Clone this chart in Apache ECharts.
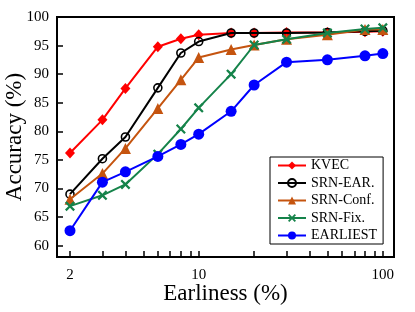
<!DOCTYPE html>
<html><head><meta charset="utf-8">
<script src="https://cdn.jsdelivr.net/npm/echarts@6/dist/echarts.min.js"></script>
<style>html,body{margin:0;padding:0;background:#fff}#c{width:415px;height:312px}</style>
</head><body><div id="c"></div>
<script>
const earliness = [2, 3, 4, 6, 8, 10, 15, 20, 30, 50, 80, 100];
const kvec     = [76.2, 82.0, 87.5, 94.8, 96.2, 96.9, 97.2, 97.2, 97.3, 97.3, 97.4, 97.5];
const srnEar   = [69.0, 75.2, 79.0, 87.6, 93.7, 95.7, 97.2, 97.2, 97.2, 97.3, 97.5, 97.6];
const srnConf  = [68.1, 72.6, 77.0, 84.0, 89.0, 92.9, 94.3, 95.1, 96.1, 96.9, 97.8, 97.8];
const srnFix   = [66.9, 68.8, 70.7, 76.0, 80.4, 84.1, 90.0, 95.1, 96.1, 97.2, 97.9, 98.1];
const earliest = [62.6, 71.1, 72.9, 75.6, 77.7, 79.5, 83.5, 88.1, 92.1, 92.5, 93.2, 93.6];
const seriesNames = ['KVEC', 'SRN-EAR.', 'SRN-Conf.', 'SRN-Fix.', 'EARLIEST'];
const xTickLabels = [2, 10, 100];
const xTicks = [2, 3, 4, 5, 6, 7, 8, 9, 10, 20, 30, 40, 50, 60, 70, 80, 90, 100];
const yTicks = [60, 65, 70, 75, 80, 85, 90, 95, 100];

const FONT = 'Liberation Serif';
const pairs = arr => arr.map((v, i) => [earliness[i], v]);
const xPath = 'path://M0,1.6L1.6,0L5,3.4L8.4,0L10,1.6L6.6,5L10,8.4L8.4,10L5,6.6L1.6,10L0,8.4L3.4,5Z';

const styles = [
  { color: '#ff0000', symbol: 'diamond', size: [10, 11], item: { color: '#ff0000' } },
  { color: '#000000', symbol: 'circle', size: 8, item: { color: 'rgba(255,255,255,0)', borderColor: '#000', borderWidth: 1.6 } },
  { color: '#c5540f', symbol: 'triangle', size: 11, item: { color: '#c5540f' } },
  { color: '#15834a', symbol: xPath, size: 10, item: { color: '#15834a' } },
  { color: '#0000ff', symbol: 'circle', size: 11, item: { color: '#0000ff' } }
];
const datasets = [kvec, srnEar, srnConf, srnFix, earliest];

const chart = echarts.init(document.getElementById('c'));
chart.setOption({
  animation: false,
  textStyle: { fontFamily: FONT },
  grid: { left: 57, right: 21, top: 17, bottom: 55, show: true, borderColor: '#000', borderWidth: 2,
          containLabel: false, outerBoundsMode: 'none' },
  legend: {
    orient: 'vertical', left: 270, top: 157,
    itemWidth: 28, itemHeight: 10, itemGap: 3.5,
    padding: [1.5, 6, 1.5, 7],
    borderColor: '#000', borderWidth: 1,
    textStyle: { fontFamily: FONT, fontSize: 14, color: '#000' },
    data: seriesNames
  },
  xAxis: {
    type: 'log', logBase: 10, min: 1.7, max: 115,
    name: 'Earliness (%)', nameLocation: 'middle', nameGap: 25, nameMoveOverlap: false,
    nameTextStyle: { fontFamily: FONT, fontSize: 23, color: '#000' },
    axisLine: { lineStyle: { color: '#000', width: 2 } },
    axisTick: { inside: true, length: 6, customValues: xTicks, lineStyle: { color: '#000', width: 1.5 } },
    axisLabel: { customValues: xTickLabels, fontFamily: FONT, fontSize: 15, color: '#000', margin: 11 },
    splitLine: { show: false }, minorTick: { show: false }
  },
  yAxis: {
    type: 'value', min: 58, max: 100,
    name: 'Accuracy (%)', nameLocation: 'middle', nameGap: 31, nameMoveOverlap: false,
    nameTextStyle: { fontFamily: FONT, fontSize: 23, color: '#000' },
    axisLine: { lineStyle: { color: '#000', width: 2 } },
    axisTick: { inside: true, length: 6, customValues: yTicks, lineStyle: { color: '#000', width: 1.5 } },
    axisLabel: { customValues: yTicks, fontFamily: FONT, fontSize: 15, color: '#000', margin: 8 },
    splitLine: { show: false }
  },
  series: datasets.map((d, i) => ({
    name: seriesNames[i], type: 'line', data: pairs(d),
    symbol: styles[i].symbol, symbolSize: styles[i].size,
    lineStyle: { color: styles[i].color, width: 2 },
    itemStyle: styles[i].item,
    emphasis: { disabled: true }, z: 2 + i
  }))
});
</script></body></html>
